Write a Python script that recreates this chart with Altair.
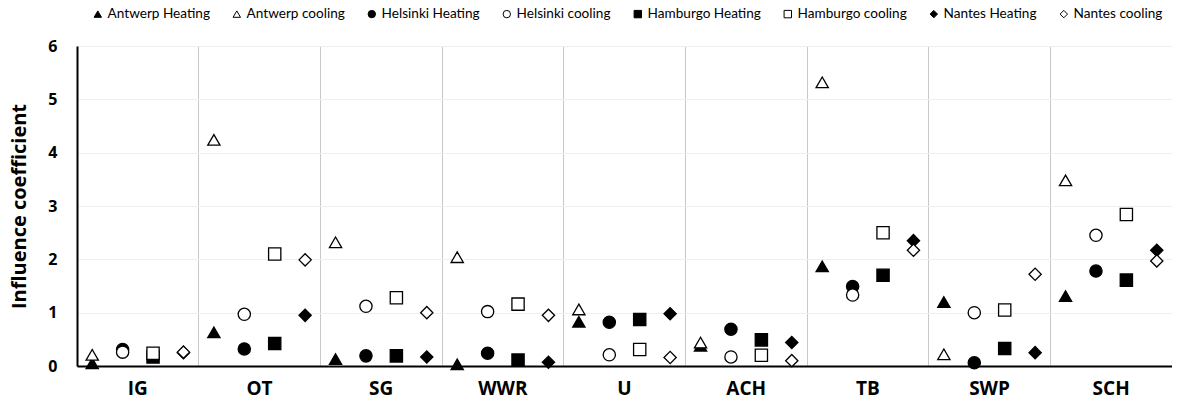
import altair as alt
import pandas as pd

categories = ["IG", "OT", "SG", "WWR", "U", "ACH", "TB", "SWP", "SCH"]
cities = ["Antwerp", "Helsinki", "Hamburgo", "Nantes"]

antwerp_heating = [0.05, 0.63, 0.13, 0.03, 0.83, 0.38, 1.87, 1.20, 1.31]
antwerp_cooling = [0.21, 4.24, 2.32, 2.04, 1.06, 0.44, 5.32, 0.22, 3.48]
helsinki_heating = [0.31, 0.32, 0.19, 0.24, 0.82, 0.69, 1.49, 0.06, 1.78]
helsinki_cooling = [0.26, 0.97, 1.12, 1.02, 0.21, 0.17, 1.33, 1.00, 2.45]
hamburgo_heating = [0.17, 0.42, 0.19, 0.11, 0.87, 0.49, 1.70, 0.33, 1.61]
hamburgo_cooling = [0.24, 2.10, 1.28, 1.16, 0.31, 0.20, 2.50, 1.05, 2.84]
nantes_heating = [0.25, 0.95, 0.17, 0.07, 0.98, 0.44, 2.35, 0.25, 2.17]
nantes_cooling = [0.26, 1.99, 1.00, 0.95, 0.16, 0.10, 2.17, 1.72, 1.97]

series = [
    ("Antwerp Heating", "Antwerp", antwerp_heating),
    ("Antwerp cooling", "Antwerp", antwerp_cooling),
    ("Helsinki Heating", "Helsinki", helsinki_heating),
    ("Helsinki cooling", "Helsinki", helsinki_cooling),
    ("Hamburgo Heating", "Hamburgo", hamburgo_heating),
    ("Hamburgo cooling", "Hamburgo", hamburgo_cooling),
    ("Nantes Heating", "Nantes", nantes_heating),
    ("Nantes cooling", "Nantes", nantes_cooling),
]
series_names = [s[0] for s in series]
shapes = ["triangle-up", "triangle-up", "circle", "circle", "square", "square", "diamond", "diamond"]
fills = ["black", "white"] * 4

rows = []
order = 0
for name, city, vals in series:
    for cat, v in zip(categories, vals):
        rows.append({"Parameter": cat, "City": city, "Series": name, "Value": v, "order": order})
        order += 1
df = pd.DataFrame(rows)

FONT = "Open Sans"

chart = alt.Chart(df).mark_point(filled=False, color="black", strokeWidth=1.3, size=150, opacity=1).encode(
    x=alt.X("Parameter:N", sort=categories,
            scale=alt.Scale(paddingInner=0, paddingOuter=0),
            axis=alt.Axis(title=None, labelAngle=0, labelFont=FONT, labelFontSize=19,
                          labelFontWeight="bold", labelColor="black", labelPadding=13,
                          ticks=False, grid=True, gridColor="#c8c8c8", gridWidth=1,
                          bandPosition=0, domainColor="black", domainWidth=2)),
    xOffset=alt.XOffset("City:N", sort=cities, scale=alt.Scale(domain=cities, padding=0.5)),
    y=alt.Y("Value:Q", scale=alt.Scale(domain=[0, 6], nice=False),
            axis=alt.Axis(title="Influence coefficient", values=[0, 1, 2, 3, 4, 5, 6],
                          titleFont=FONT, titleFontSize=20, titleFontWeight="bold", titleColor="black",
                          titleX=-58, titleY=160, titleAngle=-90, titleAlign="center",
                          titleBaseline="middle",
                          labelFont=FONT, labelFontSize=16, labelFontWeight="bold", labelColor="black",
                          labelPadding=20, ticks=False, grid=True, gridColor="#efefef",
                          domainColor="black", domainWidth=2)),
    shape=alt.Shape("Series:N", scale=alt.Scale(domain=series_names, range=shapes),
                    legend=alt.Legend(title=None, orient="none", legendX=14, legendY=-39,
                                      direction="horizontal", columns=8, columnPadding=20,
                                      labelFont="Lato", labelFontSize=13.6, labelColor="black",
                                      symbolSize=55, symbolStrokeWidth=1, labelOffset=3)),
    fill=alt.Fill("Series:N", scale=alt.Scale(domain=series_names, range=fills)),
    order=alt.Order("order:Q"),
).properties(
    width=1095, height=320,
    autosize=alt.AutoSizeParams(type="none"),
    padding={"left": 69, "top": 38, "right": 0, "bottom": 35},
).configure_view(stroke=None)

chart.save("out.html", embed_options={"renderer": "svg", "actions": False})
